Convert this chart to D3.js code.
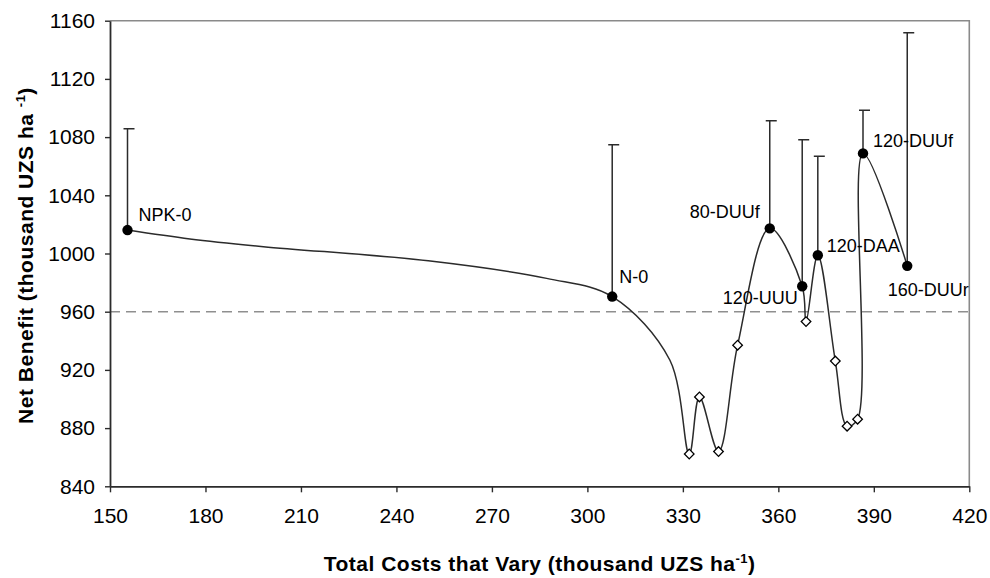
<!DOCTYPE html>
<html>
<head>
<meta charset="utf-8">
<script src="https://cdn.jsdelivr.net/npm/d3@7"></script>
<style>
  html, body { margin: 0; padding: 0; background: #fff; }
  svg { display: block; font-family: "Liberation Sans", Arial, sans-serif; }
</style>
</head>
<body>
<svg id="chart" width="990" height="578"></svg>
<script>
// Treatments ordered by total costs that vary (thousand UZS/ha)
const costs    = [155.5, 175.1, 198.2, 250.0, 287.2, 307.8, 325.9, 332.0, 335.2, 341.2, 347.2, 357.3, 367.5, 368.7, 372.4, 377.9, 381.6, 384.9, 386.6, 400.5];
// Net benefit (thousand UZS/ha)
const benefits = [1016.1, 1010.0, 1004.7, 995.0, 982.9, 970.4, 926.8, 862.2, 901.4, 863.9, 937.0, 1017.3, 977.5, 953.2, 998.8, 926.1, 881.3, 886.1, 1068.8, 991.5];
// "dom" = non-dominated treatment, "sub" = dominated treatment, "" = no marker
const kinds    = ["dom", "", "", "", "", "dom", "", "sub", "sub", "sub", "sub", "dom", "dom", "sub", "dom", "sub", "sub", "sub", "dom", "dom"];
const names    = ["NPK-0", "", "", "", "", "N-0", "", "", "", "", "", "80-DUUf", "120-UUU", "", "120-DAA", "", "", "", "120-DUUf", "160-DUUr"];
// Upper error of the net benefit
const upperErr = [69.7, 0, 0, 0, 0, 104.3, 0, 0, 0, 0, 0, 74.0, 100.7, 0, 68.1, 0, 0, 0, 29.6, 160.2];

const xTicks = [150, 180, 210, 240, 270, 300, 330, 360, 390, 420];
const yTicks = [840, 880, 920, 960, 1000, 1040, 1080, 1120, 1160];
const threshold = 960;

// label placement around each named point
const labelPos = {
  "NPK-0":    { anchor: "start", dx: 11,    dy: -9.3 },
  "N-0":      { anchor: "start", dx: 7,     dy: -13.4 },
  "80-DUUf":  { anchor: "end",   dx: -10,   dy: -10 },
  "120-UUU":  { anchor: "end",   dx: -4.5,  dy: 18 },
  "120-DAA":  { anchor: "start", dx: 9,     dy: -3.6 },
  "120-DUUf": { anchor: "start", dx: 10,    dy: -6.8 },
  "160-DUUr": { anchor: "start", dx: -19.6, dy: 29.7 }
};

const data = costs.map((c, i) => ({ c, b: benefits[i], kind: kinds[i], name: names[i], err: upperErr[i] }));

const plotL = 110, plotR = 969.3, plotT = 20.7, plotB = 486.3;
const svg = d3.select("#chart");

const x = d3.scaleLinear().domain([150, 420]).range([plotL, plotR]);
const y = d3.scaleLinear().domain([840, 1160]).range([plotB, plotT]);

const dark = "#2b2b2b";

// top and right frame
svg.append("path")
  .attr("d", `M${plotL},${plotT}H${plotR}V${plotB}`)
  .attr("fill", "none").attr("stroke", "#8a8a8a").attr("stroke-width", 1.6);

// threshold line
svg.append("line")
  .attr("x1", plotL).attr("x2", plotR)
  .attr("y1", y(threshold)).attr("y2", y(threshold))
  .attr("stroke", "#8f8f8f").attr("stroke-width", 1.6)
  .attr("stroke-dasharray", "10,6");

// axes
const yAxis = svg.append("g")
  .attr("transform", `translate(${plotL},0)`)
  .call(d3.axisLeft(y).tickValues(yTicks).tickFormat(d3.format("d")).tickSizeInner(5).tickSizeOuter(0).tickPadding(10));
const xAxis = svg.append("g")
  .attr("transform", `translate(0,${plotB})`)
  .call(d3.axisBottom(x).tickValues(xTicks).tickFormat(d3.format("d")).tickSizeInner(6).tickSizeOuter(0).tickPadding(16));

[yAxis, xAxis].forEach(g => {
  g.select(".domain").attr("stroke", dark).attr("stroke-width", 1.8);
  g.selectAll(".tick line").attr("stroke", dark).attr("stroke-width", 1.4);
  g.selectAll(".tick text")
    .attr("fill", "#000")
    .style("font-family", "'Liberation Sans', Arial, sans-serif")
    .style("font-size", "21px");
});

// connecting curve
const line = d3.line()
  .x(d => x(d.c)).y(d => y(d.b))
  .curve(d3.curveCatmullRom.alpha(0.5));
svg.append("path")
  .datum(data)
  .attr("d", line)
  .attr("fill", "none")
  .attr("stroke", dark)
  .attr("stroke-width", 1.5);

// upper error bars
const withErr = data.filter(d => d.err > 0);
svg.append("g").selectAll("path")
  .data(withErr)
  .join("path")
  .attr("d", d => {
    const px = x(d.c), y0 = y(d.b), y1 = y(d.b + d.err);
    return `M${px},${y0}V${y1}M${px - 4},${y1}H${px + 7}`;
  })
  .attr("fill", "none")
  .attr("stroke", dark)
  .attr("stroke-width", 1.5);

// dominated treatments: open diamonds
const diamond = d3.symbol(d3.symbolSquare, 46);
svg.append("g").selectAll("path")
  .data(data.filter(d => d.kind === "sub"))
  .join("path")
  .attr("d", diamond)
  .attr("transform", d => `translate(${x(d.c)},${y(d.b)}) rotate(45)`)
  .attr("fill", "#fff")
  .attr("stroke", "#000")
  .attr("stroke-width", 1.3);

// non-dominated treatments: filled circles
svg.append("g").selectAll("circle")
  .data(data.filter(d => d.kind === "dom"))
  .join("circle")
  .attr("cx", d => x(d.c))
  .attr("cy", d => y(d.b))
  .attr("r", 5.2)
  .attr("fill", "#000");

// treatment labels
svg.append("g").selectAll("text")
  .data(data.filter(d => d.name))
  .join("text")
  .attr("x", d => x(d.c) + labelPos[d.name].dx)
  .attr("y", d => y(d.b) + labelPos[d.name].dy)
  .attr("text-anchor", d => labelPos[d.name].anchor)
  .attr("font-size", 18)
  .attr("fill", "#000")
  .text(d => d.name);

// axis titles
const xTitle = svg.append("text")
  .attr("x", (plotL + plotR) / 2)
  .attr("y", 571)
  .attr("text-anchor", "middle")
  .attr("font-size", 21)
  .attr("font-weight", "bold")
  .attr("letter-spacing", 0.5);
xTitle.append("tspan").text("Total Costs that Vary (thousand UZS ha");
xTitle.append("tspan").attr("font-size", 13).attr("dy", -8).text("-1");
xTitle.append("tspan").attr("dy", 8).text(")");

const yTitle = svg.append("text")
  .attr("transform", `translate(33,${(plotT + plotB) / 2 + 2}) rotate(-90)`)
  .attr("text-anchor", "middle")
  .attr("font-size", 21)
  .attr("font-weight", "bold")
  .attr("letter-spacing", 0.5);
yTitle.append("tspan").text("Net Benefit (thousand UZS ha ");
yTitle.append("tspan").attr("font-size", 13).attr("dy", -8).text("-1");
yTitle.append("tspan").attr("dy", 8).text(")");
</script>
</body>
</html>
